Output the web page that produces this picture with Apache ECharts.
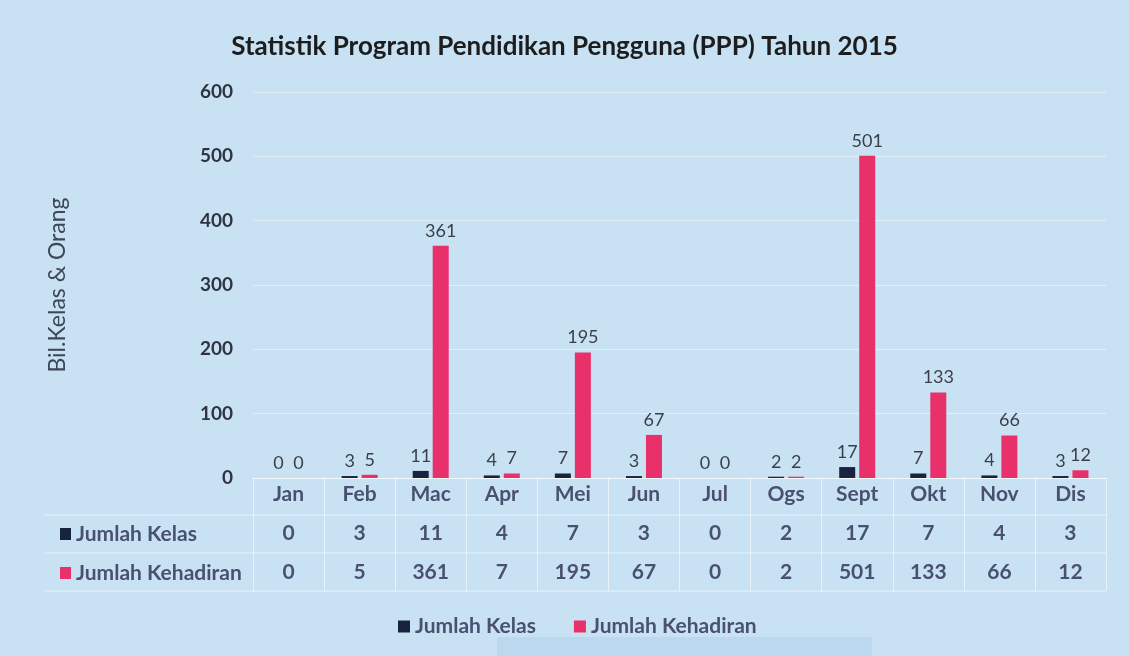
<!DOCTYPE html>
<html>
<head>
<meta charset="utf-8">
<script src="https://cdn.jsdelivr.net/npm/echarts@6/dist/echarts.min.js"></script>
<style>
  html, body { margin: 0; padding: 0; background: #fff; }
  #chart { width: 1129px; height: 656px; }
</style>
</head>
<body>
<div id="chart"></div>
<script>
const months = ['Jan', 'Feb', 'Mac', 'Apr', 'Mei', 'Jun', 'Jul', 'Ogs', 'Sept', 'Okt', 'Nov', 'Dis'];
const jumlahKelas = [0, 3, 11, 4, 7, 3, 0, 2, 17, 7, 4, 3];
const jumlahKehadiran = [0, 5, 361, 7, 195, 67, 0, 2, 501, 133, 66, 12];
const seriesNames = ['Jumlah Kelas', 'Jumlah Kehadiran'];
const yMin = 0, yMax = 600, yStep = 100;

const FONT = 'Lato, "Open Sans", sans-serif';
const colKelas = '#17233f';
const colHadir = '#e8306b';
const textGrey = '#4a5070';

const chart = echarts.init(document.getElementById('chart'));

// extra category axes used as the rows of the data table
function tableAxis(values, offset) {
    return {
        type: 'category',
        data: values.map(String),
        position: 'bottom',
        offset: offset,
        axisLine: { show: false },
        axisTick: { show: false },
        axisLabel: { color: textGrey, fontSize: 21, fontWeight: 'bold', fontFamily: FONT, margin: 6 }
    };
}

const labelStyle = { show: true, position: 'top', distance: 6, color: '#3c3f48', fontSize: 18, fontFamily: FONT };

chart.setOption({
    backgroundColor: '#c8e2f4',
    title: {
        text: 'Statistik Program Pendidikan Pengguna (PPP) Tahun 2015',
        left: 'center',
        top: 29,
        textStyle: { fontSize: 26, fontWeight: 'bold', color: '#1d1d1d', fontFamily: FONT }
    },
    legend: {
        data: seriesNames,
        left: 393,
        top: 611,
        icon: 'rect',
        itemWidth: 12,
        itemHeight: 12,
        itemGap: 38,
        textStyle: { color: textGrey, fontSize: 21, fontWeight: 'bold', fontFamily: FONT }
    },
    grid: { left: 253, right: 23, top: 92, bottom: 178 },
    xAxis: [
        {
            type: 'category',
            data: months,
            axisLine: { lineStyle: { color: 'rgba(255,255,255,0.6)' } },
            axisTick: { show: true, length: 113, interval: 0, lineStyle: { color: 'rgba(255,255,255,0.55)' } },
            axisLabel: { color: textGrey, fontSize: 21, fontWeight: 'bold', fontFamily: FONT, margin: 6 }
        },
        tableAxis(jumlahKelas, 39),
        tableAxis(jumlahKehadiran, 78)
    ],
    yAxis: {
        type: 'value',
        min: yMin,
        max: yMax,
        interval: yStep,
        name: 'Bil.Kelas & Orang',
        nameLocation: 'middle',
        nameGap: 184,
        nameTextStyle: { color: '#3d4758', fontSize: 23, fontFamily: FONT },
        axisLine: { show: false },
        axisTick: { show: false },
        splitLine: { lineStyle: { color: 'rgba(255,255,255,0.45)' } },
        axisLabel: { color: '#2f3440', fontSize: 19, fontWeight: 'bold', fontFamily: FONT, margin: 20 }
    },
    series: [
        {
            name: seriesNames[0],
            type: 'bar',
            data: jumlahKelas,
            barWidth: 16,
            barGap: '25%',
            itemStyle: { color: colKelas },
            label: labelStyle
        },
        {
            name: seriesNames[1],
            type: 'bar',
            data: jumlahKehadiran,
            barWidth: 16,
            barGap: '25%',
            itemStyle: { color: colHadir },
            label: labelStyle
        }
    ]
});

// table frame lines and row headers, placed from the axis scale
const y0 = chart.convertToPixel({ yAxisIndex: 0 }, 0);
const xRight = 1129 - 23;
const lineStyle = { stroke: 'rgba(255,255,255,0.55)', lineWidth: 1 };
const rows = [
    { name: seriesNames[0], color: colKelas, y: y0 + 56 },
    { name: seriesNames[1], color: colHadir, y: y0 + 95 }
];
const graphics = [
    { type: 'rect', shape: { x: 497, y: 637, width: 375, height: 19 }, style: { fill: 'rgba(70,120,190,0.09)' }, silent: true },
    { type: 'line', shape: { x1: 45, y1: y0 + 37, x2: xRight, y2: y0 + 37 }, style: lineStyle, silent: true },
    { type: 'line', shape: { x1: 45, y1: y0 + 75, x2: xRight, y2: y0 + 75 }, style: lineStyle, silent: true },
    { type: 'line', shape: { x1: 45, y1: y0 + 113, x2: xRight, y2: y0 + 113 }, style: lineStyle, silent: true }
];
rows.forEach(function (r) {
    graphics.push({ type: 'rect', shape: { x: 60, y: r.y - 6, width: 11, height: 12 }, style: { fill: r.color }, silent: true });
    graphics.push({
        type: 'text', x: 76, y: r.y,
        style: { text: r.name, fill: textGrey, fontSize: 21, fontWeight: 'bold', fontFamily: FONT, verticalAlign: 'middle' },
        silent: true
    });
});
chart.setOption({ graphic: graphics });
</script>
</body>
</html>
